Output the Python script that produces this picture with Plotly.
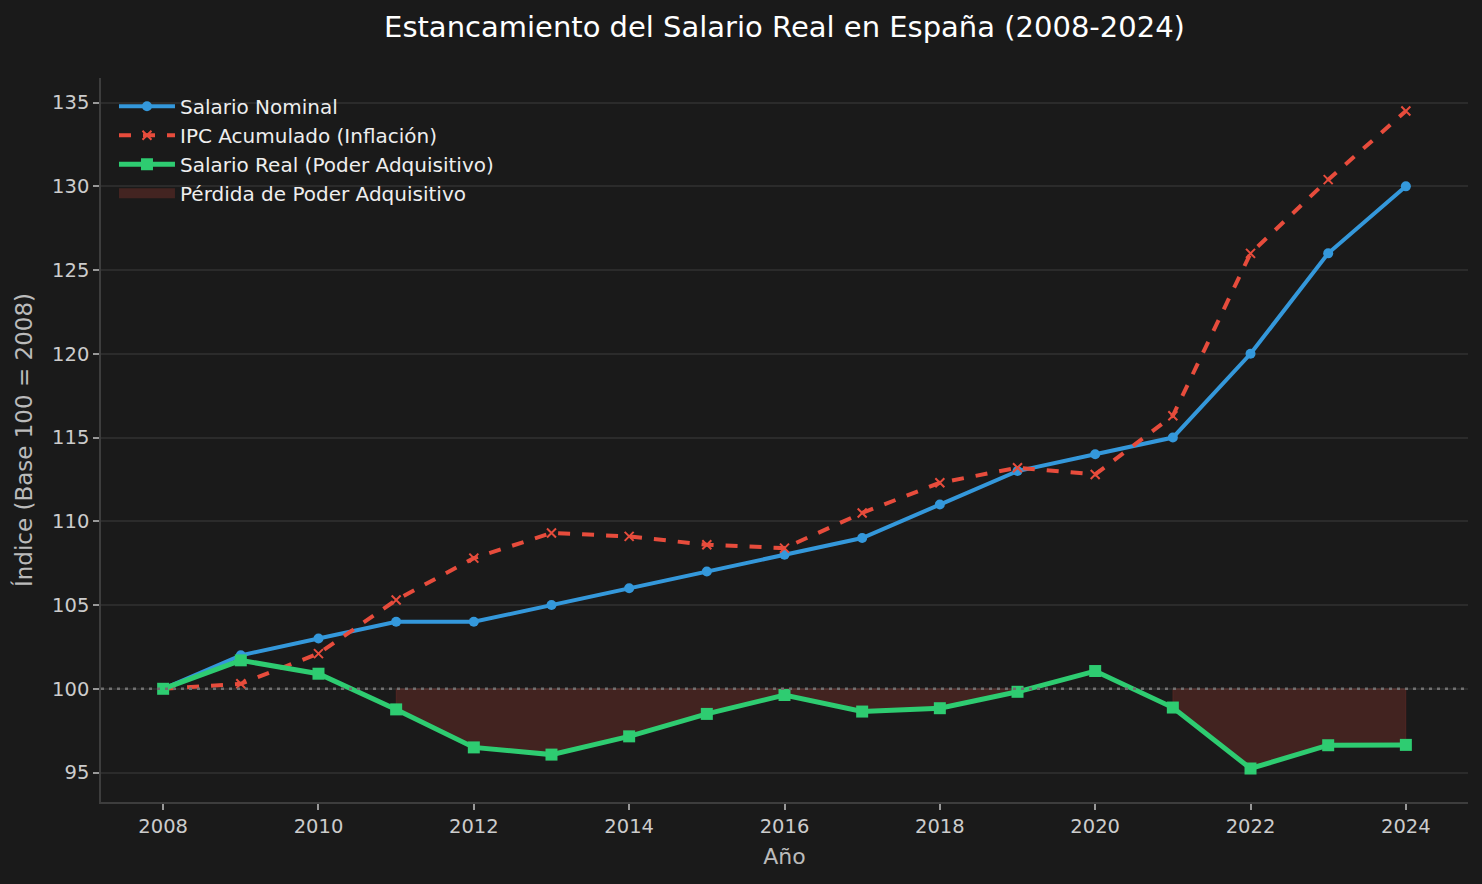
import plotly.graph_objects as go

years = list(range(2008, 2025))
salario_nominal = [100, 102, 103, 104, 104, 105, 106, 107, 108, 109, 111, 113, 114, 115, 120, 126, 130]
ipc_acumulado = [100, 100.3, 102.1, 105.3, 107.8, 109.3, 109.1, 108.6, 108.4, 110.5, 112.3, 113.2, 112.8, 116.3, 126.0, 130.4, 134.5]
salario_real = [100, 101.7, 100.9, 98.77, 96.5, 96.07, 97.16, 98.5, 99.63, 98.64, 98.84, 99.82, 101.06, 98.88, 95.24, 96.63, 96.65]
base = 100

BG = "#1a1a1a"
FONT = "DejaVu Sans"
FILL = "rgba(231,76,60,0.2)"

fig = go.Figure()

# Loss area: where real < base (contiguous runs)
fx, fy = [], []
run = []
for i, (yr, v) in enumerate(zip(years, salario_real)):
    if v < base:
        run.append(i)
    if (v >= base or i == len(years) - 1) and run:
        xs = [years[j] for j in run]
        ys = [salario_real[j] for j in run]
        fx += xs + xs[::-1] + [xs[0], None]
        fy += ys + [base] * len(xs) + [ys[0], None]
        run = []

fig.add_trace(go.Scatter(
    x=fx, y=fy, mode="lines", fill="toself",
    fillcolor=FILL,
    line=dict(color="rgba(231,76,60,0.15)", width=1),
    name="Pérdida de Poder Adquisitivo", showlegend=False, hoverinfo="skip",
))

fig.add_trace(go.Scatter(
    x=years, y=salario_nominal, mode="lines+markers", name="Salario Nominal",
    line=dict(color="#3498db", width=4),
    marker=dict(symbol="circle", size=10, color="#3498db"), legendrank=1,
))
fig.add_trace(go.Scatter(
    x=years, y=ipc_acumulado, mode="lines+markers", name="IPC Acumulado (Inflación)",
    line=dict(color="#e74c3c", width=4, dash="dash"),
    marker=dict(symbol="x-thin", size=9, color="#e74c3c", line=dict(color="#e74c3c", width=2)),
    legendrank=2,
))
fig.add_trace(go.Scatter(
    x=years, y=salario_real, mode="lines+markers", name="Salario Real (Poder Adquisitivo)",
    line=dict(color="#2ecc71", width=5),
    marker=dict(symbol="square", size=12, color="#2ecc71"), legendrank=3,
))
# legend swatch for the loss area
fig.add_trace(go.Scatter(
    x=[None], y=[None], mode="lines", name="Pérdida de Poder Adquisitivo",
    line=dict(color="rgba(67,36,33,1)", width=14), legendrank=4, hoverinfo="skip",
))

fig.add_shape(type="line", xref="paper", x0=0, x1=1, yref="y", y0=base, y1=base,
              line=dict(color="#707070", width=2.5, dash="3px,5px"), layer="above")

fig.update_layout(
    width=1482, height=884,
    paper_bgcolor=BG, plot_bgcolor=BG,
    margin=dict(l=101, r=14, t=78, b=82),
    font=dict(family=FONT, color="#cccccc", size=19),
    title=dict(text="Estancamiento del Salario Real en España (2008-2024)",
               font=dict(family=FONT, size=29, color="#ffffff"),
               x=0.5, xref="paper", xanchor="center",
               y=1 - 27 / 884, yref="container", yanchor="middle"),
    legend=dict(x=0.0095, y=0.988, xanchor="left", yanchor="top",
                bgcolor="rgba(0,0,0,0)", font=dict(size=20, color="#eeeeee"),
                itemwidth=56, tracegroupgap=0),
    showlegend=True,
)
fig.update_xaxes(
    range=[2007.2, 2024.8], tickmode="array", tickvals=list(range(2008, 2025, 2)),
    showgrid=False, zeroline=False,
    showline=True, linecolor="#3d3d3d", linewidth=1.5,
    ticks="outside", ticklen=6, tickcolor="#999999", tickwidth=1.5,
    tickfont=dict(size=19.5, color="#cccccc"),
    title=dict(text="Año", font=dict(size=22, color="#bbbbbb"), standoff=11),
)
fig.update_yaxes(
    range=[93.24, 136.47], tickmode="array", tickvals=[95, 100, 105, 110, 115, 120, 125, 130, 135],
    showgrid=True, gridcolor="#2b2b2b", gridwidth=1.5, zeroline=False,
    showline=True, linecolor="#3d3d3d", linewidth=1.5,
    ticks="outside", ticklen=6, tickcolor="#999999", tickwidth=1.5,
    tickfont=dict(size=19.5, color="#cccccc"),
    title=dict(text="Índice (Base 100 = 2008)", font=dict(size=23, color="#bbbbbb"), standoff=13),
)

fig.write_html("out.html")
